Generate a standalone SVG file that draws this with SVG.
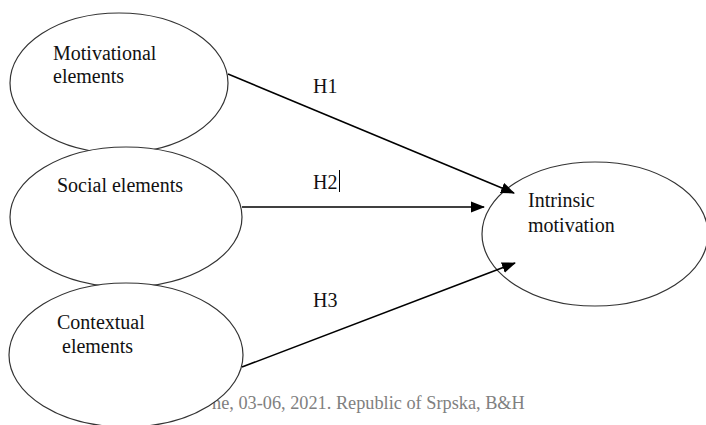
<svg xmlns="http://www.w3.org/2000/svg" width="706" height="425" viewBox="0 0 706 425" font-family="'Liberation Serif', 'Times New Roman', serif">
<defs>
<style>
.node ellipse{fill:#fff;stroke:#333;stroke-width:1.2}
.t{font-family:'Liberation Serif','Times New Roman',serif;font-size:20px;fill:#111}
.foot{font-family:'Liberation Serif','Times New Roman',serif;font-size:18.3px;fill:#808080}
.conn line{stroke:#000;stroke-width:1.5}
</style>
<marker id="ah" markerWidth="14" markerHeight="12" refX="13" refY="6" orient="auto" markerUnits="userSpaceOnUse">
<path d="M0,0.5 L14,6 L0,11.5 Z" fill="#000"/>
</marker>
</defs>
<rect width="706" height="425" fill="#fff"/>
<text class="foot" x="212" y="409">ne, 03-06, 2021. Republic of Srpska, B&amp;H</text>
<g id="n1" class="node">
<ellipse cx="119" cy="83" rx="109" ry="70"/>
<text class="t" x="53" y="60">Motivational</text>
<text class="t" x="53" y="83">elements</text>
</g>
<g id="n2" class="node">
<ellipse cx="126" cy="217" rx="116" ry="70"/>
<text class="t" x="57" y="192">Social elements</text>
</g>
<g id="n3" class="node">
<ellipse cx="126" cy="355" rx="117" ry="72"/>
<text class="t" x="57" y="329">Contextual</text>
<text class="t" x="62" y="353">elements</text>
</g>
<g id="n4" class="node">
<ellipse cx="595" cy="234" rx="113" ry="72"/>
<text class="t" x="528" y="207">Intrinsic</text>
<text class="t" x="528" y="232">motivation</text>
</g>
<g id="connectors" class="conn">
<line x1="228" y1="74" x2="514" y2="193" marker-end="url(#ah)"/>
<line x1="242" y1="207" x2="484" y2="207" marker-end="url(#ah)"/>
<line x1="242" y1="367" x2="515" y2="263" marker-end="url(#ah)"/>
</g>
<text class="t" x="313" y="93">H1</text>
<text class="t" x="313" y="189">H2</text>
<line x1="339.5" y1="170" x2="339.5" y2="192" stroke="#000" stroke-width="1"/>
<text class="t" x="313" y="307">H3</text>
</svg>
